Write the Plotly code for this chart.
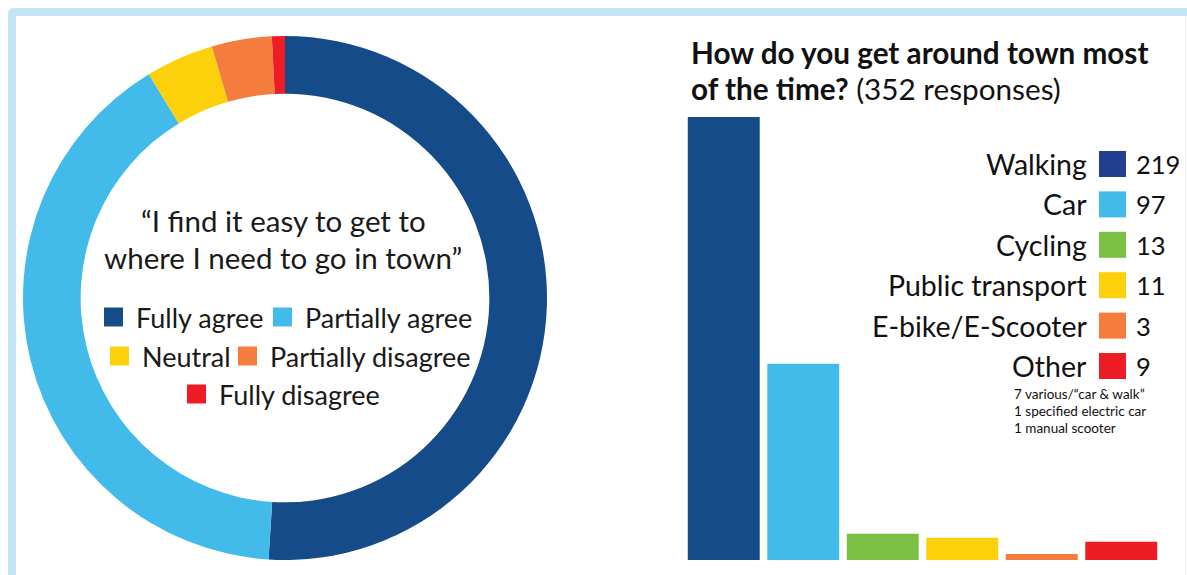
import plotly.graph_objects as go

W, H = 1187, 575

# ---------------- data ----------------
agree_labels = ["Fully agree", "Partially agree", "Neutral", "Partially disagree", "Fully disagree"]
agree_values = [51.0, 40.3, 4.2, 3.7, 0.8]
agree_colors = ["#164b8a", "#42bbea", "#fdd00c", "#f47c3c", "#ee1c25"]
question_lines = ["“I find it easy to get to", "where I need to go in town”"]

modes = ["Walking", "Car", "Cycling", "Public transport", "E-bike/E-Scooter", "Other"]
mode_counts = [219, 97, 13, 11, 3, 9]
mode_colors = ["#164b8a", "#42bbea", "#7bc043", "#fdd00c", "#f47c3c", "#ee1c25"]
mode_key_colors = ["#22408f", "#42bbea", "#7bc043", "#fdd00c", "#f47c3c", "#ee1c25"]
other_notes = ["7 various/“car & walk”", "1 specified electric car", "1 manual scooter"]
title_line1 = "How do you get around town most"
title_line2_bold = "of the time?"
n_responses = 352

FONT = "Lato"
BORDER = "#c2e5f5"


def X(p):
    return p / W


def Y(p):
    return 1 - p / H


fig = go.Figure()

# donut
fig.add_trace(go.Pie(
    labels=agree_labels, values=agree_values,
    marker=dict(colors=agree_colors, line=dict(width=0)),
    hole=0.78, sort=False, direction="clockwise", rotation=0,
    textinfo="none", hoverinfo="label+percent", showlegend=False,
    domain=dict(x=[X(23), X(547)], y=[Y(560), Y(36)]),
))

# bars
fig.add_trace(go.Bar(
    x=modes, y=mode_counts, marker=dict(color=mode_colors, line=dict(width=0)),
    showlegend=False, hoverinfo="x+y",
))

shapes = []
annotations = []

# border (rounded top-left corner)
shapes.append(dict(type="path", xref="paper", yref="paper",
                   path=(f"M {X(8)},{Y(14)} Q {X(8)},{Y(8)} {X(14)},{Y(8)} L {X(1187)},{Y(8)} "
                         f"L {X(1187)},{Y(16)} L {X(16)},{Y(16)} L {X(16)},{Y(575)} L {X(8)},{Y(575)} Z"),
                   fillcolor=BORDER, line=dict(width=0), layer="above"))
shapes.append(dict(type="rect", xref="paper", yref="paper", x0=X(1185), x1=X(1186), y0=Y(575), y1=Y(16),
                   fillcolor="#e6f4fb", line=dict(width=0), layer="above"))

# question text in the hole
for txt, yc in zip(question_lines, [220, 257]):
    annotations.append(dict(text=txt, x=X(283), y=Y(yc), xref="paper", yref="paper",
                            xanchor="center", yanchor="middle", showarrow=False,
                            font=dict(family=FONT, size=29.5, color="#1a1a1a")))

# donut key inside hole
key_rows = [[(0, 104), (1, 273)], [(2, 110), (3, 238)], [(4, 187)]]
key_row_y = [317, 356, 394]
for row, yc in zip(key_rows, key_row_y):
    for idx, sx in row:
        shapes.append(dict(type="rect", xref="paper", yref="paper",
                           x0=X(sx), x1=X(sx + 19), y0=Y(yc + 9.5), y1=Y(yc - 9.5),
                           fillcolor=agree_colors[idx], line=dict(width=0)))
        annotations.append(dict(text=agree_labels[idx], x=X(sx + 30), y=Y(yc), xref="paper", yref="paper",
                                xanchor="left", yanchor="middle", showarrow=False,
                                font=dict(family=FONT, size=27, color="#1a1a1a")))

# bar chart title
annotations.append(dict(text="<b>" + title_line1 + "</b>", x=X(689), y=Y(53), xref="paper", yref="paper",
                        xanchor="left", yanchor="middle", showarrow=False,
                        font=dict(family=FONT, size=29.7, color="#111111")))
annotations.append(dict(text="<b>" + title_line2_bold + "</b> (" + str(n_responses) + " responses)",
                        x=X(689), y=Y(88), xref="paper", yref="paper",
                        xanchor="left", yanchor="middle", showarrow=False,
                        font=dict(family=FONT, size=29.7, color="#111111")))

# bar key
for i, (name, cnt, col) in enumerate(zip(modes, mode_counts, mode_key_colors)):
    yc = 164 + 40.4 * i
    shapes.append(dict(type="rect", xref="paper", yref="paper",
                       x0=X(1099), x1=X(1126), y0=Y(yc + 13), y1=Y(yc - 13),
                       fillcolor=col, line=dict(width=0)))
    annotations.append(dict(text=name, x=X(1089), y=Y(yc), xref="paper", yref="paper",
                            xanchor="right", yanchor="middle", showarrow=False,
                            font=dict(family=FONT, size=28.5, color="#111111")))
    annotations.append(dict(text=str(cnt), x=X(1134), y=Y(yc), xref="paper", yref="paper",
                            xanchor="left", yanchor="middle", showarrow=False,
                            font=dict(family=FONT, size=25.5, color="#111111")))

for j, note in enumerate(other_notes):
    annotations.append(dict(text=note, x=X(1012), y=Y(394 + 17 * j), xref="paper", yref="paper",
                            xanchor="left", yanchor="middle", showarrow=False,
                            font=dict(family=FONT, size=13.5, color="#111111")))

fig.update_layout(
    width=W, height=H, margin=dict(l=0, r=0, t=0, b=0),
    paper_bgcolor="white", plot_bgcolor="white",
    bargap=0.095,
    xaxis=dict(domain=[X(684), X(1161)], visible=False, range=[-0.5, len(modes) - 0.5], fixedrange=True),
    yaxis=dict(domain=[Y(560), Y(117)], visible=False, range=[0, max(mode_counts)], fixedrange=True),
    shapes=shapes, annotations=annotations, showlegend=False,
)

fig.write_html("out.html", config={"displayModeBar": False},
               post_script="document.body.style.margin='0';document.body.style.overflow='hidden';")
